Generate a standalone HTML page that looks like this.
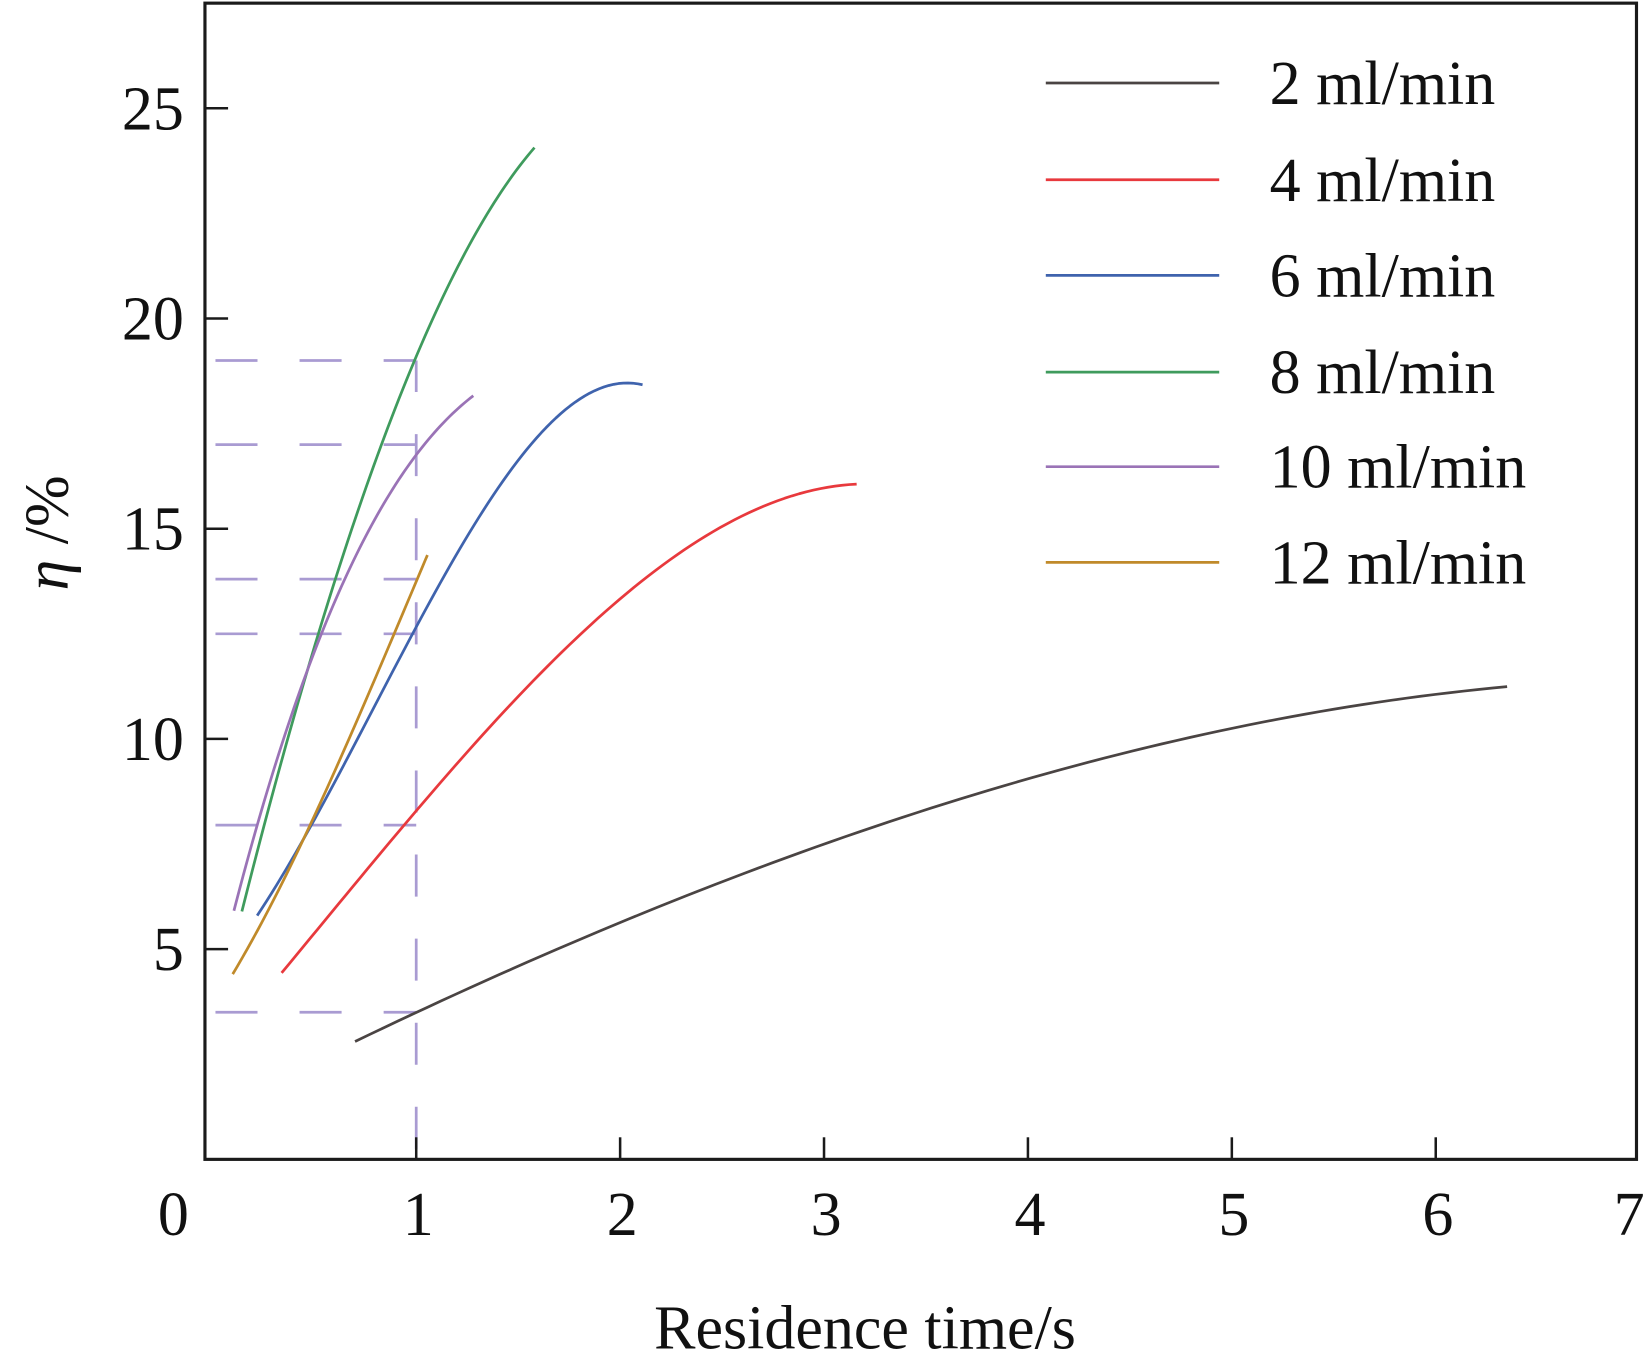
<!DOCTYPE html>
<html><head><meta charset="utf-8"><style>
html,body{margin:0;padding:0;background:#fff;}
svg{display:block;}
text{font-family:"Liberation Serif",serif;fill:#111;}
</style></head><body>
<svg id="chart" width="1647" height="1368" viewBox="0 0 1567 1301.5" preserveAspectRatio="none" xmlns="http://www.w3.org/2000/svg">
<g id="grid"></g>
<g id="series"></g>
<g id="axes"></g>
<g id="legend"></g>
<text x="823" y="1283" font-size="59" text-anchor="middle">Residence time/s</text>
<text transform="translate(64,507) rotate(-90)" font-size="59" text-anchor="middle"><tspan font-style="italic">η</tspan> /%</text>
</svg>
<script>
const xTicks=[0,1,2,3,4,5,6,7];
const yTicks=[5,10,15,20,25];
const seriesNames=["2 ml/min","4 ml/min","6 ml/min","8 ml/min","10 ml/min","12 ml/min"];
const seriesColors=["#4a4443","#e8393d","#3f63ad","#3f9b5d","#9a73b6","#c08a2a"];
const s2x=[0.70,1.0,2.0,3.0,4.0,5.0,6.0,6.35];
const s2y=[2.78,3.5,5.7,7.45,9.0,10.3,11.1,11.2];
const s4x=[0.34,0.43,1.0,1.56,2.12,2.56,3.04,3.16];
const s4y=[4.4,5.0,8.3,11.3,13.8,15.2,16.08,16.0];
const s6x=[0.22,0.55,1.0,1.27,1.56,1.84,2.04,2.11];
const s6y=[5.74,8.68,12.48,15.0,17.06,18.2,18.47,18.4];
const s8x=[0.145,0.40,0.66,0.84,1.0,1.25,1.58];
const s8y=[5.94,10.35,14.9,17.06,19.0,21.7,24.06];
const s10x=[0.106,0.42,0.75,1.0,1.28];
const s10y=[5.94,10.9,15.0,16.6,18.2];
const s12x=[0.10,0.17,0.55,0.815,1.0,1.055];
const s12y=[4.4,5.0,8.68,11.65,13.7,14.4];
const refY=[19,17,13.8,12.5,7.95,3.5];
const refX=1;

const NS="http://www.w3.org/2000/svg";
const L=195,R=1557,T=3,B=1103;
function X(v){return 202+v*194;}
function Y(v){return 1103-v*40;}
function mk(tag,attrs,parent){const e=document.createElementNS(NS,tag);for(const k in attrs)e.setAttribute(k,attrs[k]);parent.appendChild(e);return e;}
function polyfit(xs,ys,deg){
  const n=deg+1,A=[],b=[];
  for(let i=0;i<n;i++){A.push(new Array(n).fill(0));b.push(0);}
  xs.forEach((x,k)=>{for(let i=0;i<n;i++){b[i]+=ys[k]*Math.pow(x,i);for(let j=0;j<n;j++)A[i][j]+=Math.pow(x,i+j);}});
  for(let i=0;i<n;i++){let p=i;for(let r=i+1;r<n;r++)if(Math.abs(A[r][i])>Math.abs(A[p][i]))p=r;
    [A[i],A[p]]=[A[p],A[i]];[b[i],b[p]]=[b[p],b[i]];
    for(let r=0;r<n;r++){if(r===i)continue;const f=A[r][i]/A[i][i];for(let c=i;c<n;c++)A[r][c]-=f*A[i][c];b[r]-=f*b[i];}}
  return b.map((v,i)=>v/A[i][i]);
}
function curve(xs,ys){
  const deg=Math.min(3,xs.length-1);
  const c=polyfit(xs,ys,deg);
  const f=x=>c.reduce((s,ci,i)=>s+ci*Math.pow(x,i),0);
  const x0=xs[0],x1=xs[xs.length-1];let d="";
  for(let k=0;k<=80;k++){const x=x0+(x1-x0)*k/80;d+=(k?" L":"M")+X(x).toFixed(2)+","+Y(f(x)).toFixed(2);}
  return d;
}
const grid=document.getElementById('grid');
refY.forEach(v=>{
  const l=mk('line',{x1:L,x2:X(refX),y1:Y(v),y2:Y(v),stroke:'#a99bd2','stroke-width':2.6,'stroke-dasharray':'40 40','stroke-dashoffset':-10},grid);
  
  
});
const vl=mk('line',{x1:X(refX),x2:X(refX),y1:B,y2:Y(refY[0]),stroke:'#a99bd2','stroke-width':2.6,'stroke-dasharray':'40 40','stroke-dashoffset':-10},grid);



const sg=document.getElementById('series');
const allX=[s2x,s4x,s6x,s8x,s10x,s12x],allY=[s2y,s4y,s6y,s8y,s10y,s12y];
allX.forEach((xs,i)=>{
  const p=mk('path',{d:curve(xs,allY[i]),fill:'none',stroke:seriesColors[i],'stroke-width':2.6,'stroke-linejoin':'round'},sg);
  
  
});

const ax=document.getElementById('axes');
const frame=mk('rect',{x:L,y:T,width:R-L,height:B-T,fill:'none',stroke:'#1a1a1a','stroke-width':3},ax);


xTicks.forEach(v=>{
  if(v>0&&v<7){
    const t=mk('line',{x1:X(v),x2:X(v),y1:B,y2:B-21,stroke:'#1a1a1a','stroke-width':2.4},ax);
    
    
  }
  const lx=v===0?165:(v===7?1550:X(v)+2);
  const tx=mk('text',{x:lx,y:1175,'font-size':59,'text-anchor':'middle'},ax);
  tx.textContent=v;
  
  
});
yTicks.forEach(v=>{
  const t=mk('line',{x1:L,x2:L+22,y1:Y(v),y2:Y(v),stroke:'#1a1a1a','stroke-width':2.4},ax);
  
  
  const tx=mk('text',{x:175,y:Y(v)+20,'font-size':59,'text-anchor':'end'},ax);
  tx.textContent=v;
  
  
});

const lg=document.getElementById('legend');
const legY=[79,171,262,354,444,535];
seriesNames.forEach((n,i)=>{
  const g=mk('g',{},lg);
  
  
  const l=mk('line',{x1:995,x2:1160,y1:legY[i],y2:legY[i],stroke:seriesColors[i],'stroke-width':2.6},g);
  
  
  const t=mk('text',{x:1208,y:legY[i]+20,'font-size':59},g);
  t.textContent=n;
  
  
});
</script>
</body></html>
